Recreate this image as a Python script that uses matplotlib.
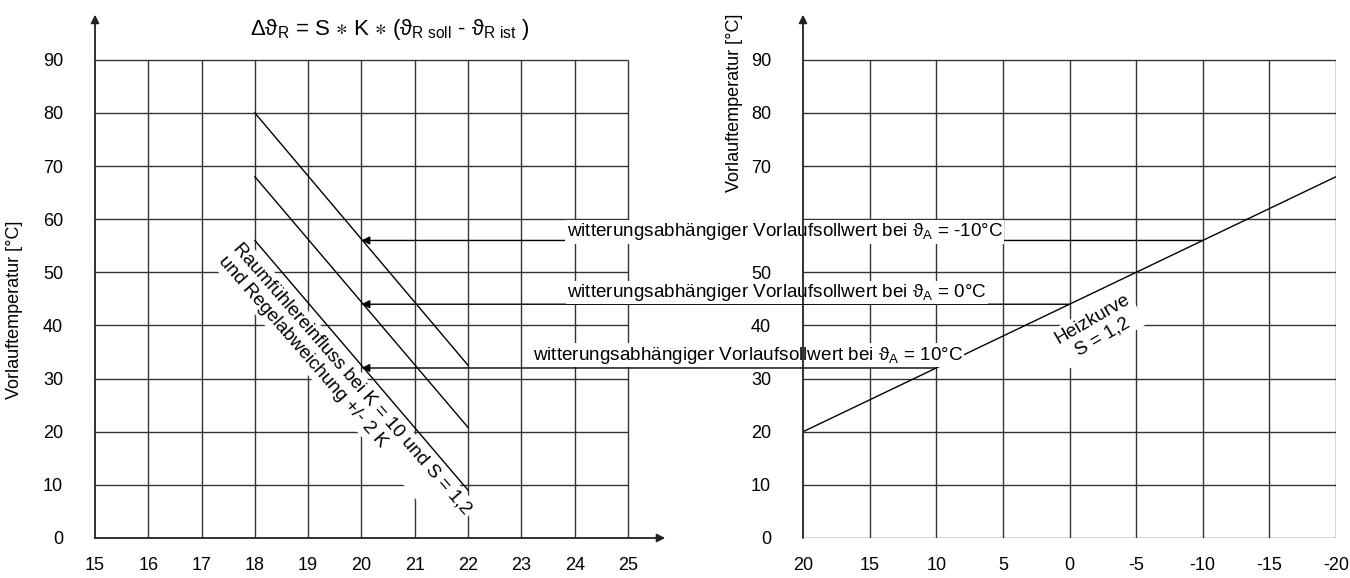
import matplotlib.pyplot as plt
from matplotlib.patches import ConnectionPatch

plt.rcParams['font.family'] = ['Liberation Sans', 'DejaVu Sans']
plt.rcParams['mathtext.fontset'] = 'custom'
plt.rcParams['mathtext.rm'] = 'Liberation Sans'
plt.rcParams['mathtext.it'] = 'Liberation Sans:italic'
plt.rcParams['mathtext.default'] = 'regular'
plt.rcParams['axes.unicode_minus'] = False

# left panel: room temperature influence
room_ticks = [15, 16, 17, 18, 19, 20, 21, 22, 23, 24, 25]
flow_ticks = [0, 10, 20, 30, 40, 50, 60, 70, 80, 90]
room_x = [18, 22]
infl_minus10 = [80, 32.5]
infl_0 = [68, 20.8]
infl_plus10 = [56, 9]
room_set = 20

# right panel: heating curve
outside_ticks = [20, 15, 10, 5, 0, -5, -10, -15, -20]
right_flow_labels = ['0', '10', '20', '30', '40', '50', '', '70', '80', '90']  # 60 hidden behind text
curve_x = [20, -20]
curve_y = [20, 68]

# weather dependent set points
outside_set = [-10, 0, 10]
flow_set = [56, 44, 32]
set_labels = ["witterungsabhängiger Vorlaufsollwert bei ϑ$_{A}$ = -10°C",
              "witterungsabhängiger Vorlaufsollwert bei ϑ$_{A}$ = 0°C",
              "witterungsabhängiger Vorlaufsollwert bei ϑ$_{A}$ = 10°C"]
label_pos = [(5.0, 57.6), (6.2, 46.2), (8.0, 34.4)]

gc = '#333333'
fs = 13
fs_txt = 13.6

fig = plt.figure(figsize=(13.5, 5.78), dpi=100)
ax_l = fig.add_axes([95/1350, 40/578, 575.6/1350, 526/578], zorder=0)
ax_r = fig.add_axes([803/1350, 40/578, 533/1350, 526/578], zorder=2)

arrow_kw = dict(arrowstyle='-|>', color='#222222', lw=1.3, shrinkA=0, shrinkB=0, mutation_scale=12)

for ax in [ax_l, ax_r]:
    ax.set_facecolor('none')
    for sp in ax.spines.values():
        sp.set_visible(False)
    ax.set_ylim(0, 99)
    ax.set_yticks(flow_ticks)
    ax.tick_params(axis='both', which='major', length=0, labelsize=fs)
    ax.tick_params(axis='x', which='major', pad=14)
    ax.tick_params(axis='y', which='major', pad=23)
    ax.tick_params(axis='x', which='minor', length=7, width=1, color=gc, direction='out')
    ax.set_ylabel("Vorlauftemperatur [°C]", fontsize=fs)

# ---- left
ax_l.set_xlim(15, 25.8)
ax_l.set_xticks(room_ticks)
ax_l.set_xticks([room_set], minor=True)
ax_l.yaxis.set_label_coords(-0.125, 0.433)
ax_l.hlines(flow_ticks[1:], 15, 25, color=gc, lw=1, zorder=1)
ax_l.vlines(room_ticks[1:], 0, 90, color=gc, lw=1, zorder=1)
ax_l.annotate('', xy=(25.7, 0), xytext=(15, 0), arrowprops=arrow_kw, zorder=5)
ax_l.annotate('', xy=(15, 98.5), xytext=(15, 0), arrowprops=arrow_kw, zorder=5)
for yy in [infl_minus10, infl_0, infl_plus10]:
    ax_l.plot(room_x, yy, color='black', lw=1, zorder=4)
ax_l.text(19.69, 28.7, "Raumfühlereinfluss bei K = 10 und S = 1,2\nund Regelabweichung +/- 2 K",
          rotation=-49, rotation_mode='anchor', ha='center', va='center', multialignment='left',
          fontsize=fs_txt, zorder=3, bbox=dict(facecolor='white', edgecolor='none', pad=2))

# ---- right
ax_r.set_xlim(20, -20)
ax_r.set_xticks(outside_ticks)
ax_r.set_xticks(outside_ticks[1:-1], minor=True)
ax_r.set_yticklabels(right_flow_labels)
ax_r.yaxis.set_label_coords(-0.113, 0.827)
ax_r.hlines(flow_ticks, 20, -20, color=gc, lw=1, zorder=1)
ax_r.vlines(outside_ticks[1:], 0, 90, color=gc, lw=1, zorder=1)
ax_r.annotate('', xy=(20, 98.5), xytext=(20, 0), arrowprops=arrow_kw, zorder=5)
ax_r.plot(curve_x, curve_y, color='black', lw=1, zorder=2)
ax_r.text(-2.1, 39.5, "Heizkurve\nS = 1,2", rotation=30, rotation_mode='anchor',
          ha='center', va='center', multialignment='center', fontsize=fs_txt, zorder=3,
          bbox=dict(facecolor='white', edgecolor='none', pad=2))

for xs, ys, lab, (tx, ty) in zip(outside_set, flow_set, set_labels, label_pos):
    con = ConnectionPatch(xyA=(xs, ys), coordsA=ax_r.transData,
                          xyB=(room_set, ys), coordsB=ax_l.transData,
                          arrowstyle='-|>', color='black', lw=1, mutation_scale=12,
                          shrinkA=0, shrinkB=0, zorder=1)
    fig.add_artist(con)
    ax_r.text(tx, ty, lab, ha='right', va='center', fontsize=fs_txt, zorder=3,
              bbox=dict(facecolor='white', edgecolor='none', pad=1))

fig.text(390/1350, 1 - 30/578,
         "Δϑ$_{R}$ = S $\\ast$ K $\\ast$ (ϑ$_{R\\ soll}$ - ϑ$_{R\\ ist}$ )",
         ha='center', va='center', fontsize=16)

plt.savefig("out.png", dpi=100)
